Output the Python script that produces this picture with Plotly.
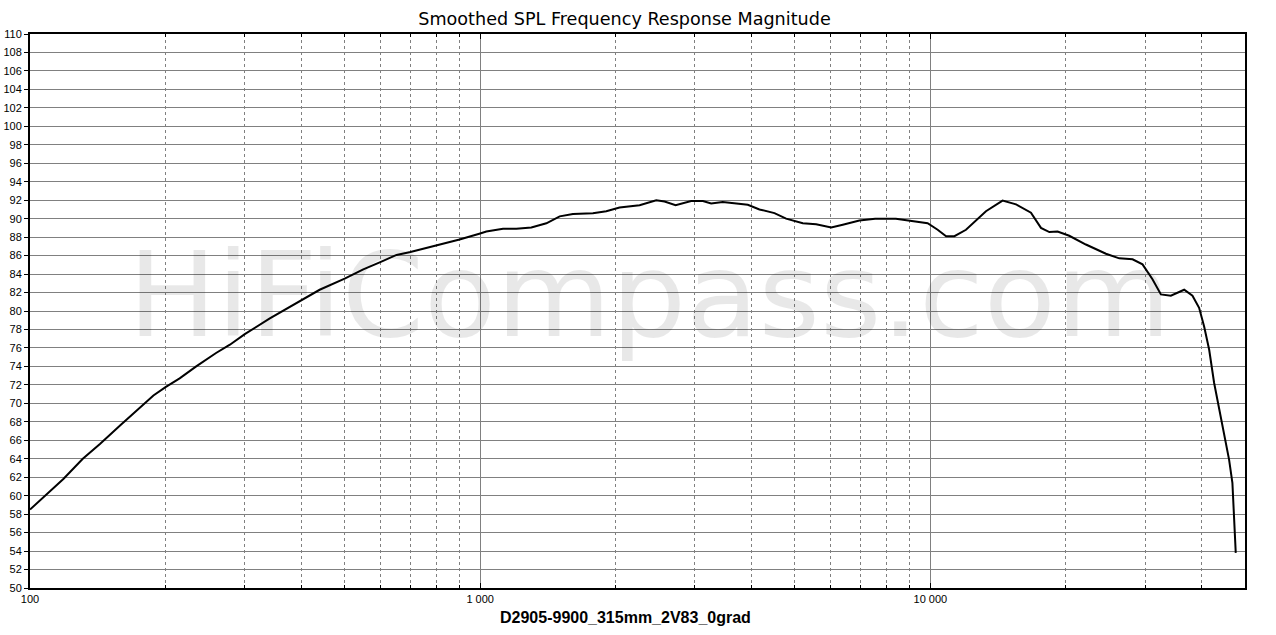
import plotly.graph_objects as go

# smoothed SPL readout (Hz, dB)
freq = [100, 109, 118.6, 131, 143, 158.5, 173, 188, 200, 215, 234, 259, 278, 300, 341, 400, 440,
        500, 550, 600, 652, 700, 800, 900, 1000, 1032, 1124, 1203, 1299, 1403, 1502, 1607, 1780,
        1906, 2040, 2260, 2461, 2568, 2717, 2943, 3124, 3259, 3458, 3703, 3931, 4173, 4505,
        4783, 5208, 5576, 6022, 6390, 6956, 7540, 8384, 9862, 10380, 10840, 11310, 12000,
        13290, 14470, 15500, 16730, 17610, 18380, 19170, 20350, 22160, 24550, 26280, 28130,
        29600, 31150, 32520, 34220, 36630, 38220, 39540, 40580, 41630, 42700, 43800, 44930,
        46090, 46880, 47280, 47690]
spl = [58.5, 60.2, 61.8, 64.0, 65.6, 67.6, 69.3, 70.85, 71.75, 72.7, 74.0, 75.45, 76.35, 77.5, 79.2, 81.2, 82.3,
       83.5, 84.5, 85.3, 86.07, 86.4, 87.1, 87.75, 88.4, 88.6, 88.9, 88.9, 89.05, 89.5, 90.25, 90.5, 90.6,
       90.8, 91.2, 91.45, 92.0, 91.85, 91.45, 91.9, 91.9, 91.65, 91.8, 91.6, 91.5, 91.0, 90.6,
       90.0, 89.5, 89.4, 89.05, 89.35, 89.8, 90.0, 90.0, 89.5, 88.8, 88.1, 88.1, 88.8,
       90.8, 91.95, 91.55, 90.65, 89.0, 88.55, 88.6, 88.15, 87.2, 86.2, 85.7, 85.6,
       85.05, 83.45, 81.8, 81.65, 82.3, 81.65, 80.35, 78.3, 75.8, 72.2, 69.3, 66.4,
       63.9, 61.4, 57.8, 53.8]

major_ticks = [100, 1000, 10000]
major_text = ["100", "1 000", "10 000"]
minor_ticks = [200, 300, 400, 500, 600, 700, 800, 900,
               2000, 3000, 4000, 5000, 6000, 7000, 8000, 9000,
               20000, 30000, 40000]

grid = "#808080"
tickfont = dict(family="Liberation Sans, Arial", size=11, color="black")

fig = go.Figure()

# watermark, sits under the curve
fig.add_trace(go.Scatter(x=[2378], y=[80.5], mode="text", text=["HiFiCompass.com"],
                         textfont=dict(family="DejaVu Sans", size=118, color="rgba(0,0,0,0.09)"),
                         hoverinfo="skip", showlegend=False))

fig.add_trace(go.Scatter(x=freq, y=spl, mode="lines", line=dict(color="black", width=2),
                         showlegend=False))

fig.update_xaxes(type="log", range=[2, 4.69897], automargin=False,
                 tickmode="array", tickvals=major_ticks, ticktext=major_text,
                 showgrid=True, gridcolor=grid, gridwidth=1,
                 ticks="inside", ticklen=5, tickcolor="black", tickfont=tickfont,
                 showline=True, linecolor="black", linewidth=2, mirror="ticks",
                 minor=dict(tickvals=minor_ticks, showgrid=True, gridcolor=grid, gridwidth=1,
                            griddash="3px,3px", ticks="inside", ticklen=3, tickcolor="black"),
                 zeroline=False)
fig.update_yaxes(range=[50, 110], dtick=2, tick0=50, automargin=False,
                 showgrid=True, gridcolor=grid, gridwidth=1,
                 ticks="outside", ticklen=4, tickcolor="black", tickfont=tickfont,
                 showline=True, linecolor="black", linewidth=2, mirror=True,
                 zeroline=False)

fig.update_layout(
    width=1276, height=635,
    margin=dict(l=30, r=31, t=34, b=47, autoexpand=False),
    paper_bgcolor="white", plot_bgcolor="white",
    title=dict(text="Smoothed SPL Frequency Response Magnitude",
               x=624.5 / 1276, xref="container", xanchor="center",
               y=1 - 19 / 635, yref="container", yanchor="middle",
               font=dict(family="DejaVu Sans", size=17.6, color="black")),
)

fig.add_annotation(text="D2905-9900_315mm_2V83_0grad", xref="paper", yref="paper",
                   x=(625 - 30) / 1215, y=-(617 - 588) / 554, xanchor="center", yanchor="middle",
                   showarrow=False,
                   font=dict(family="Liberation Sans, Arial", size=16, color="black", weight="bold"))

# drop the default page margin so the figure sits at the window corner
fig.write_html("out.html", config={"displayModeBar": False},
               post_script="document.body.style.margin='0';")
